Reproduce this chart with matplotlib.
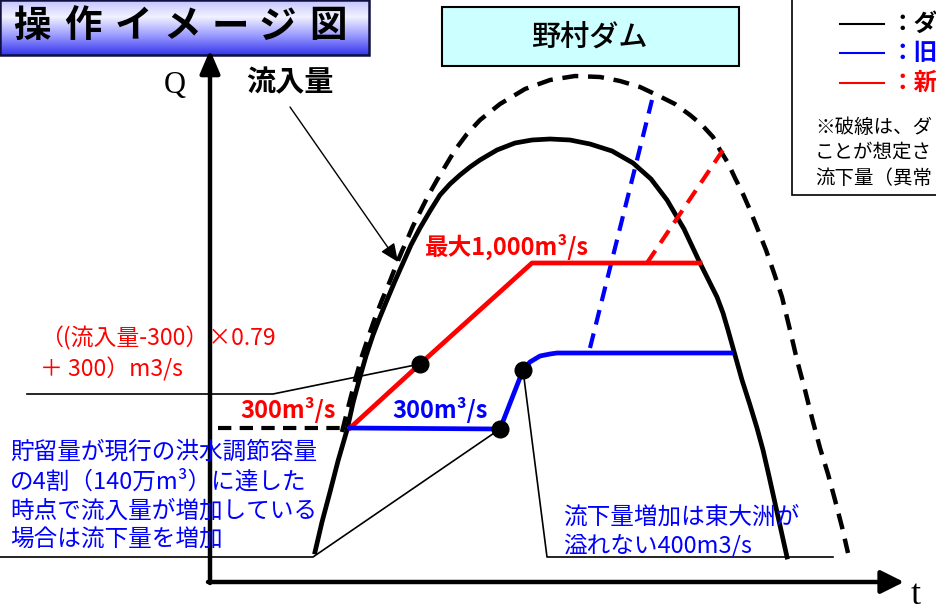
import matplotlib
matplotlib.use("Agg")
import matplotlib.pyplot as plt
import numpy as np
from matplotlib.colors import LinearSegmentedColormap
from matplotlib.patches import Rectangle

plt.rcParams['font.family'] = ['Noto Sans CJK JP', 'DejaVu Sans']

# schematic, in pixel units (y grows downward)
inflow_x = [315, 322, 330, 338, 347, 353, 360, 366, 373, 380, 387, 395, 403,
            411, 420, 430, 440, 450, 460, 470, 480, 497, 515, 532, 550, 570,
            590, 612, 633, 651, 667, 684, 700, 709, 717, 723, 728, 735, 742,
            750, 757, 763, 769, 775, 781, 787]
inflow_y = [552, 522, 492, 461, 430, 403, 377, 356, 335, 317, 300, 281, 263,
            245, 228, 211, 195, 184, 175, 167, 160, 150, 143, 140, 139, 140,
            144, 151, 163, 179, 200, 229, 263, 281, 297, 313, 330, 355, 380,
            405, 428, 450, 476, 503, 530, 557]

inflow_ext_x = [342, 349, 356, 362, 369, 375, 382, 390, 397, 402, 407, 413,
                420, 428, 437, 446, 455, 467, 480, 500, 525, 550, 575, 600,
                620, 640, 657, 675, 690, 702, 713, 720, 728, 735, 743, 750,
                758, 766, 774, 782, 790, 797, 805, 812, 820, 828, 835, 842, 848]
inflow_ext_y = [432, 404, 377, 356, 335, 318, 300, 281, 263, 251, 240, 226,
                212, 196, 180, 165, 150, 134, 120, 104, 89, 80, 76, 77,
                81, 87, 95, 104, 115, 125, 137, 150, 163, 178, 194, 210,
                230, 250, 273, 297, 330, 360, 390, 418, 448, 474, 500, 527, 553]

new_x = [350, 420, 532, 700]
new_y = [428, 364, 263, 263]
new_ext_x = [647, 723]
new_ext_y = [263, 150]

old_x = [350, 500, 523, 530, 540, 550, 557, 731]
old_y = [428, 429, 370, 362, 356, 354, 353, 353]
old_ext_x = [590, 652]
old_ext_y = [348, 100]

dots_x = [420, 500, 523]
dots_y = [364, 429, 370]

title_chars = "操作イメージ図"
legend_labels = ["：ダ", "：旧", "：新"]
note_lines = ["※破線は、ダ", "ことが想定さ", "流下量（異常"]
left_lines = ["貯留量が現行の洪水調節容量", "の4割（140万m³）に達した",
              "時点で流入量が増加している", "場合は流下量を増加"]
right_lines = ["流下量増加は東大洲が", "溢れない400m3/s"]

fig = plt.figure(figsize=(9.37, 6.13), dpi=100)
ax = fig.add_axes([0, 0, 1, 1])

# title box with gradient
grad_cmap = LinearSegmentedColormap.from_list(
    "g", [(0, "#c4c4ff"), (0.3, "#f2f2ff"), (0.65, "#9a9aff"), (1, "#3838ee")])
ax.imshow(np.linspace(0, 1, 64).reshape(-1, 1), cmap=grad_cmap, aspect='auto',
          extent=[0, 369, 55, 0], zorder=1)
ax.add_patch(Rectangle((0, 0), 369, 55, fill=False, ec="#101040", lw=1.8, zorder=2))
for cx, ch in zip([32, 83, 133, 182, 230, 277, 328], title_chars):
    ax.text(cx, 26, ch, fontsize=27, fontweight='bold', ha='center', va='center', zorder=3)

# dam name box
ax.add_patch(Rectangle((442, 7), 297, 59, fc="#ccffff", ec="black", lw=1.5, zorder=2))
ax.text(590, 37, "野村ダム", fontsize=21, fontweight='medium', ha='center', va='center', zorder=3)

# legend box (runs past the right edge)
ax.add_patch(Rectangle((792, -5), 160, 200, fill=False, ec="black", lw=1.2, zorder=2))
for ly, c, s in zip([24, 53, 83], ["black", "blue", "red"], legend_labels):
    ax.plot([840, 884], [ly, ly], color=c, lw=1.5, zorder=3)
    ax.text(890, ly, s, color=c, fontsize=17, fontweight='bold', va='center', zorder=3)
for ly, s in zip([127, 152, 178], note_lines):
    ax.text(815, ly, s, fontsize=14, va='center', zorder=3)

# axes arrows
ax.annotate("", xy=(210, 50), xytext=(210, 583),
            arrowprops=dict(arrowstyle="-|>,head_length=0.7,head_width=0.3",
                            color="black", lw=3.2, mutation_scale=20,
                            shrinkA=0, shrinkB=0), zorder=4)
ax.annotate("", xy=(904, 582), xytext=(208, 582),
            arrowprops=dict(arrowstyle="-|>,head_length=0.7,head_width=0.35",
                            color="black", lw=3.2, mutation_scale=20,
                            shrinkA=0, shrinkB=0), zorder=4)
ax.text(175, 86, "Q", fontsize=22, family="Liberation Serif", ha='center', va='center')
ax.text(916, 596, "t", fontsize=26, family="Liberation Serif", ha='center', va='center')

# thin leader lines
ax.plot([27, 273, 420], [394, 394, 364], color="black", lw=1.2, zorder=3)
ax.plot([0, 313, 500], [557, 557, 429], color="black", lw=1.2, zorder=3)
ax.plot([523, 547, 833], [370, 557, 557], color="black", lw=1.2, zorder=3)
ax.plot([218, 343], [428, 428], color="black", lw=3, ls=(0, (3.2, 2)), zorder=3)

# inflow curves
ax.plot(inflow_ext_x, inflow_ext_y, color="black", lw=3.2, ls=(0, (3.6, 2.2)),
        solid_joinstyle='round', zorder=4)
ax.plot(inflow_x, inflow_y, color="black", lw=3.4, solid_joinstyle='round', zorder=5)

# operation lines
ax.plot(new_ext_x, new_ext_y, color="red", lw=3, ls=(0, (3.6, 2.2)), zorder=6)
ax.plot(old_ext_x, old_ext_y, color="blue", lw=3, ls=(0, (3.6, 2.2)), zorder=6)
ax.plot(new_x, new_y, color="red", lw=3.4, zorder=7)
ax.plot(old_x, old_y, color="blue", lw=3.4, solid_joinstyle='round', zorder=7)
ax.plot(dots_x, dots_y, "o", color="black", ms=12, zorder=8)

# labels
ax.text(290, 82, "流入量", fontsize=21, fontweight='bold', ha='center', va='center')
ax.annotate("", xy=(398, 262), xytext=(290, 107),
            arrowprops=dict(arrowstyle="-|>,head_length=0.8,head_width=0.35",
                            color="black", lw=1, mutation_scale=14,
                            shrinkA=0, shrinkB=0), zorder=6)
ax.text(425, 247, "最大1,000m³/s", color="red", fontsize=17, fontweight='bold',
        va='center', zorder=9)
ax.text(240, 410, "300m³/s", color="red", fontsize=17, fontweight='bold', va='center', zorder=9)
ax.text(392, 410, "300m³/s", color="blue", fontsize=17, fontweight='bold', va='center', zorder=9)
ax.text(40, 338, "（(流入量-300）×0.79", color="red", fontsize=16.5, va='center', zorder=9)
ax.text(40, 369, "＋ 300）m3/s", color="red", fontsize=16.5, va='center', zorder=9)

for ly, s in zip([452, 482, 511, 540], left_lines):
    ax.text(10, ly, s, color="blue", fontsize=17, va='center', zorder=9)
for ly, s in zip([517, 547], right_lines):
    ax.text(563, ly, s, color="blue", fontsize=17, va='center', zorder=9)

ax.set_xlim(0, 937)
ax.set_ylim(613, 0)
ax.axis('off')
fig.savefig("out.png", dpi=100)
